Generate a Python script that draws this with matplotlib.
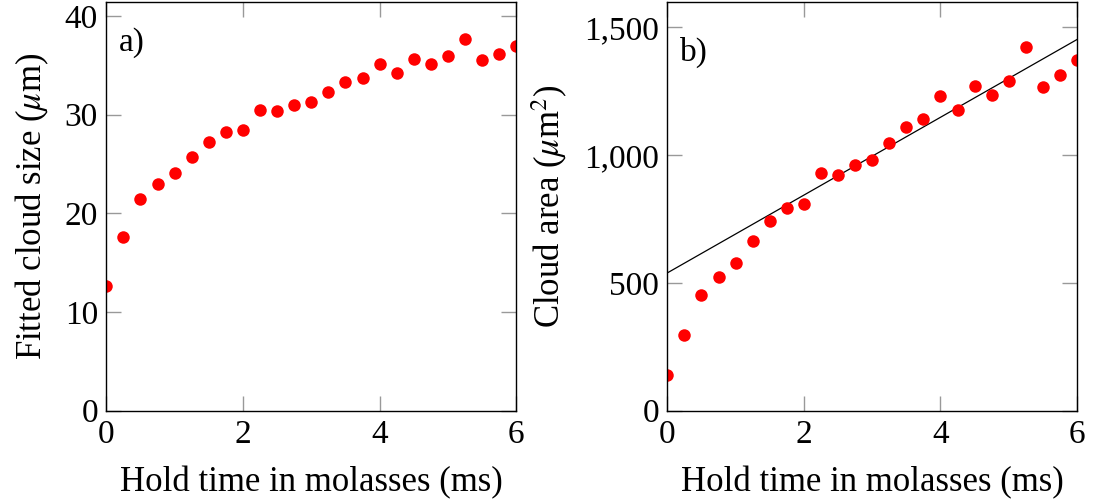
import matplotlib
matplotlib.use('Agg')
import matplotlib.pyplot as plt
from matplotlib.ticker import FuncFormatter

plt.rcParams['font.family'] = ['Liberation Serif', 'DejaVu Serif']
plt.rcParams['mathtext.fontset'] = 'stix'

hold_time = [0, 0.25, 0.5, 0.75, 1.0, 1.25, 1.5, 1.75, 2.0, 2.25, 2.5, 2.75, 3.0,
             3.25, 3.5, 3.75, 4.0, 4.25, 4.5, 4.75, 5.0, 5.25, 5.5, 5.75, 6.0]
cloud_size = [12.6, 17.6, 21.5, 23.0, 24.1, 25.7, 27.2, 28.2, 28.4, 30.5, 30.4, 31.0, 31.3,
              32.3, 33.3, 33.7, 35.1, 34.2, 35.6, 35.1, 35.9, 37.7, 35.5, 36.2, 37.0]
cloud_area = [140, 296, 451, 523, 577, 662, 741, 793, 809, 931, 923, 962, 980,
              1046, 1110, 1141, 1232, 1178, 1270, 1236, 1289, 1422, 1267, 1314, 1371]
fit_intercept = 539
fit_slope = 152.2
fit_x = [0, 6]

fig = plt.figure(figsize=(10.97, 5.03), dpi=100)
ax1 = fig.add_axes([0.0969, 0.1835, 0.3737, 0.8131])
ax2 = fig.add_axes([0.6083, 0.1835, 0.3735, 0.8131])

fs_tick = 24
fs_label = 25


def style(ax):
    ax.tick_params(which='both', direction='in', length=11, width=1.0, color='#999999',
                   top=True, right=True, labelsize=fs_tick, pad=6)
    for s in ax.spines.values():
        s.set_linewidth(1.0)
        s.set_color('black')
    ax.set_xlim(0, 6)
    ax.set_xticks([0, 2, 4, 6])
    ax.set_xlabel('Hold time in molasses (ms)', fontsize=fs_label, labelpad=12)


ax1.plot(hold_time, cloud_size, 'o', color='#ff0000', markersize=9, markeredgewidth=0)
style(ax1)
ax1.set_ylim(0, 41.45)
ax1.set_yticks([0, 10, 20, 30, 40])
ax1.set_ylabel(r'Fitted cloud size ($\mu$m)', fontsize=fs_label, labelpad=10)
ax1.text(0.03, 0.9, 'a)', transform=ax1.transAxes, fontsize=fs_tick, va='center', ha='left')

fit_y = [fit_intercept + fit_slope * x for x in fit_x]
ax2.plot(fit_x, fit_y, color='black', linewidth=0.9)
ax2.plot(hold_time, cloud_area, 'o', color='#ff0000', markersize=9, markeredgewidth=0)
style(ax2)
ax2.set_ylim(0, 1600)
ax2.set_yticks([0, 500, 1000, 1500])
ax2.yaxis.set_major_formatter(FuncFormatter(lambda v, p: f'{int(v):,}'))
ax2.set_ylabel(r'Cloud area ($\mu$m$^2$)', fontsize=fs_label, labelpad=10)
ax2.text(0.032, 0.877, 'b)', transform=ax2.transAxes, fontsize=fs_tick, va='center', ha='left')

fig.savefig('out.png', dpi=100)
